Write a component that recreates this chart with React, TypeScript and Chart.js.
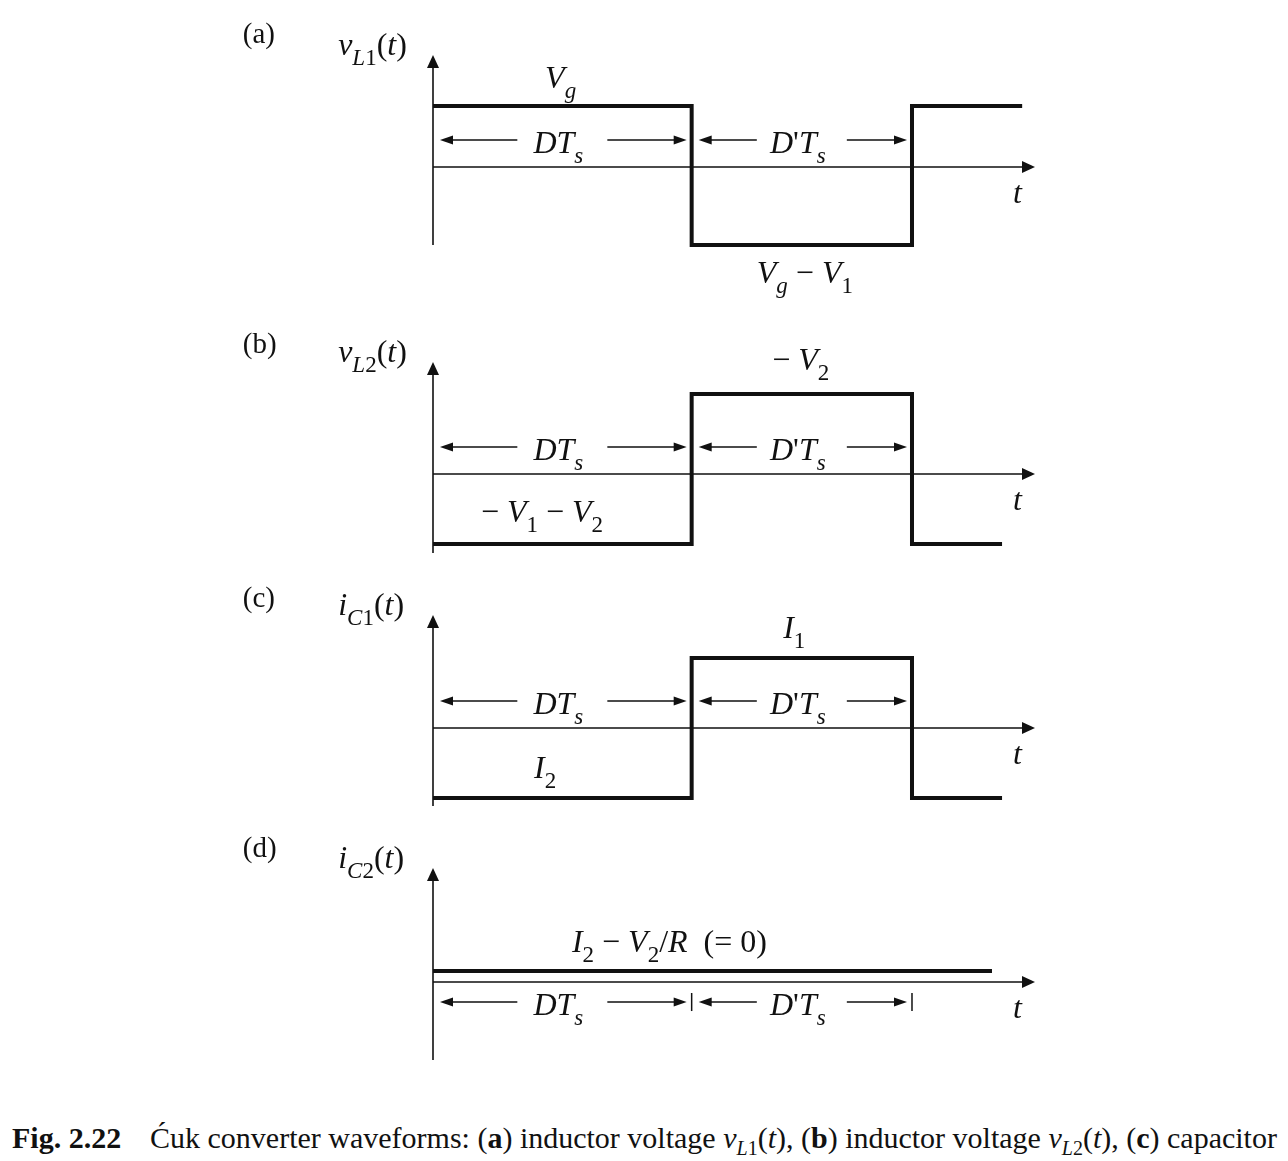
import React, { useEffect, useRef } from 'react';
import { Chart, registerables } from 'chart.js';
Chart.register(...registerables);

// ---- data ----
const D = 0.54; // duty cycle (switching period Ts = 1)
const X_MAX = 1.2568;
const timesA = [0, D, D, 1, 1, 1.23];
const vL1 = [1, 1, -1.28, -1.28, 1, 1]; // Vg, Vg - V1
const timesB = [0, D, D, 1, 1, 1.188];
const vL2 = [-0.875, -0.875, 1, 1, -0.875, -0.875]; // -V1-V2, -V2
const timesC = [0, D, D, 1, 1, 1.188];
const iC1 = [-1, -1, 1, 1, -1, -1]; // I2, I1
const timesD = [0, 1.167];
const iC2 = [0.1, 0.1]; // I2 - V2/R (= 0)

const SERIF = '"Liberation Serif", "Times New Roman", Times, serif';
const INK = '#111';

type Seg = { t: string; it?: boolean; sub?: boolean };
type Label = { x: number; y: number; segs: Seg[]; align?: 'left' | 'center'; size?: number };
type Dim = { from: number; to: number; y: number; textY: number; segs: Seg[]; ticks?: boolean };

const DTs: Seg[] = [{ t: 'DT', it: true }, { t: 's', it: true, sub: true }];
const DpTs: Seg[] = [{ t: 'D', it: true }, { t: "'" }, { t: 'T', it: true }, { t: 's', it: true, sub: true }];
const tLab: Seg[] = [{ t: 't', it: true }];
const fn = (v: string, a: string, b: string): Seg[] => [
  { t: v, it: true }, { t: a, it: true, sub: true }, { t: b, sub: true }, { t: '(' }, { t: 't', it: true }, { t: ')' },
];

const dimsStd = (y: number, textY: number): Dim[] => [
  { from: 0, to: D, y, textY, segs: DTs },
  { from: D, to: 1, y, textY, segs: DpTs },
];

const panels = [
  {
    top: 0, height: 300, pad: { left: 433, right: 253, top: 55, bottom: 55 },
    yMin: -1.28, yMax: 1.836, times: timesA, values: vL1,
    labels: [
      { x: -0.397, y: 2.033, segs: [{ t: '(a)' }], size: 29 },
      { x: -0.198, y: 1.836, segs: fn('v', 'L', '1') },
      { x: 0.234, y: 1.295, segs: [{ t: 'V', it: true }, { t: 'g', it: true, sub: true }] },
      { x: 1.211, y: -0.59, segs: tLab },
      { x: 0.676, y: -1.9, segs: [{ t: 'V', it: true }, { t: 'g', it: true, sub: true }, { t: ' − ' }, { t: 'V', it: true }, { t: '1', sub: true }] },
    ] as Label[],
    dims: dimsStd(0.443, 0.23),
  },
  {
    top: 300, height: 270, pad: { left: 433, right: 253, top: 62, bottom: 17 },
    yMin: -0.9875, yMax: 1.4, times: timesB, values: vL2,
    labels: [
      { x: -0.397, y: 1.5125, segs: [{ t: '(b)' }], size: 29 },
      { x: -0.198, y: 1.4, segs: fn('v', 'L', '2') },
      { x: 0.708, y: 1.3, segs: [{ t: '− ' }, { t: 'V', it: true }, { t: '2', sub: true }] },
      { x: 0.1, y: -0.6, segs: [{ t: '− ' }, { t: 'V', it: true }, { t: '1', sub: true }, { t: ' − ' }, { t: 'V', it: true }, { t: '2', sub: true }] },
      { x: 1.211, y: -0.45, segs: tLab },
    ] as Label[],
    dims: dimsStd(0.3375, 0.175),
  },
  {
    top: 570, height: 260, pad: { left: 433, right: 253, top: 45, bottom: 24 },
    yMin: -1.114, yMax: 1.614, times: timesC, values: iC1,
    labels: [
      { x: -0.397, y: 1.729, segs: [{ t: '(c)' }], size: 29 },
      { x: -0.198, y: 1.614, segs: fn('i', 'C', '1') },
      { x: 0.731, y: 1.286, segs: [{ t: 'I', it: true }, { t: '1', sub: true }] },
      { x: 0.211, y: -0.714, segs: [{ t: 'I', it: true }, { t: '2', sub: true }] },
      { x: 1.211, y: -0.514, segs: tLab },
    ] as Label[],
    dims: dimsStd(0.386, 0.2),
  },
  {
    top: 830, height: 260, pad: { left: 433, right: 253, top: 38, bottom: 30 },
    yMin: -0.709, yMax: 1.036, times: timesD, values: iC2,
    labels: [
      { x: -0.397, y: 1.136, segs: [{ t: '(d)' }], size: 29 },
      { x: -0.198, y: 1.036, segs: fn('i', 'C', '2') },
      {
        x: 0.29, y: 0.273, segs: [
          { t: 'I', it: true }, { t: '2', sub: true }, { t: ' − ' }, { t: 'V', it: true }, { t: '2', sub: true },
          { t: '/' }, { t: 'R', it: true }, { t: '  (= 0)' },
        ],
      },
      { x: 1.211, y: -0.327, segs: tLab },
    ] as Label[],
    dims: dimsStd(-0.182, -0.3).map((d) => ({ ...d, ticks: true })),
  },
];

const SIZE = 32;
function fontFor(s: Seg, size: number) {
  const sub = Math.round(size * 0.72);
  return `${s.it ? 'italic ' : ''}${s.sub ? sub : size}px ${SERIF}`;
}
function richWidth(ctx: CanvasRenderingContext2D, segs: Seg[], size: number) {
  let w = 0;
  for (const s of segs) { ctx.font = fontFor(s, size); w += ctx.measureText(s.t).width; }
  return w;
}
function drawRich(ctx: CanvasRenderingContext2D, x: number, y: number, segs: Seg[], align: 'left' | 'center', size: number) {
  const w = richWidth(ctx, segs, size);
  let cx = align === 'center' ? x - w / 2 : x;
  ctx.textAlign = 'left';
  ctx.textBaseline = 'alphabetic';
  ctx.fillStyle = INK;
  for (const s of segs) {
    ctx.font = fontFor(s, size);
    ctx.fillText(s.t, cx, s.sub ? y + 10 : y);
    cx += ctx.measureText(s.t).width;
  }
}
function arrowHead(ctx: CanvasRenderingContext2D, x: number, y: number, dir: 'l' | 'r' | 'u', len: number, hw: number) {
  ctx.beginPath();
  if (dir === 'r') { ctx.moveTo(x, y); ctx.lineTo(x - len, y - hw); ctx.lineTo(x - len, y + hw); }
  else if (dir === 'l') { ctx.moveTo(x, y); ctx.lineTo(x + len, y - hw); ctx.lineTo(x + len, y + hw); }
  else { ctx.moveTo(x, y); ctx.lineTo(x - hw, y + len); ctx.lineTo(x + hw, y + len); }
  ctx.closePath();
  ctx.fill();
}

const figurePlugin = {
  id: 'figurePlugin',
  beforeDatasetsDraw(chart: any) {
    const { ctx, chartArea, scales } = chart;
    const x0 = scales.x.getPixelForValue(0);
    const y0 = scales.y.getPixelForValue(0);
    ctx.save();
    ctx.strokeStyle = INK;
    ctx.fillStyle = INK;
    ctx.lineWidth = 1.6;
    ctx.beginPath();
    ctx.moveTo(x0, chartArea.bottom);
    ctx.lineTo(x0, chartArea.top + 10);
    ctx.moveTo(x0, y0);
    ctx.lineTo(chartArea.right - 10, y0);
    ctx.stroke();
    arrowHead(ctx, x0, chartArea.top, 'u', 13, 6);
    arrowHead(ctx, chartArea.right, y0, 'r', 13, 6);
    ctx.restore();
  },
  afterDatasetsDraw(chart: any) {
    const { ctx, scales } = chart;
    const p = chart.options.plugins.figurePlugin;
    const X = (v: number) => scales.x.getPixelForValue(v);
    const Y = (v: number) => scales.y.getPixelForValue(v);
    ctx.save();
    for (const l of p.labels as Label[]) drawRich(ctx, X(l.x), Y(l.y), l.segs, l.align || 'left', l.size || SIZE);
    ctx.strokeStyle = INK;
    ctx.fillStyle = INK;
    for (const d of p.dims as Dim[]) {
      const a = X(d.from) + 7;
      const b = X(d.to) - 5;
      const mid = (X(d.from) + X(d.to)) / 2;
      const y = Y(d.y);
      const gap = 45;
      ctx.lineWidth = 1.6;
      ctx.beginPath();
      ctx.moveTo(a + 10, y); ctx.lineTo(mid - gap, y);
      ctx.moveTo(mid + gap, y); ctx.lineTo(b - 10, y);
      ctx.stroke();
      arrowHead(ctx, a, y, 'l', 13, 4.5);
      arrowHead(ctx, b, y, 'r', 13, 4.5);
      drawRich(ctx, mid - 4, Y(d.textY), d.segs, 'center', SIZE);
      if (d.ticks) {
        ctx.lineWidth = 1.5;
        ctx.beginPath();
        ctx.moveTo(X(d.to), Y(-0.1));
        ctx.lineTo(X(d.to), Y(-0.264));
        ctx.stroke();
      }
    }
    ctx.restore();
  },
};

function Panel({ cfg }: { cfg: (typeof panels)[number] }) {
  const ref = useRef<HTMLCanvasElement | null>(null);
  useEffect(() => {
    if (!ref.current) return;
    const chart = new Chart(ref.current, {
      type: 'line',
      data: {
        datasets: [
          {
            data: cfg.times.map((t, i) => ({ x: t, y: cfg.values[i] })),
            borderColor: INK,
            borderWidth: 4,
            pointRadius: 0,
            fill: false,
            tension: 0,
            borderJoinStyle: 'miter',
            borderCapStyle: 'butt',
            clip: false as any,
          },
        ],
      },
      options: {
        animation: false,
        responsive: false,
        devicePixelRatio: 1,
        layout: { padding: cfg.pad },
        scales: {
          x: { type: 'linear', min: 0, max: X_MAX, display: false },
          y: { type: 'linear', min: cfg.yMin, max: cfg.yMax, display: false },
        },
        plugins: {
          legend: { display: false },
          tooltip: { enabled: false },
          figurePlugin: { labels: cfg.labels, dims: cfg.dims },
        } as any,
      },
      plugins: [figurePlugin as any],
    });
    return () => chart.destroy();
  }, [cfg]);
  return (
    <canvas
      ref={ref}
      width={1288}
      height={cfg.height}
      style={{ position: 'absolute', left: 0, top: cfg.top, width: 1288, height: cfg.height }}
    />
  );
}

export default function App() {
  return (
    <div style={{ position: 'absolute', left: 0, top: 0, width: 1288, height: 1161, background: '#fff', overflow: 'hidden' }}>
      {panels.map((p, i) => (
        <Panel key={i} cfg={p} />
      ))}
      <div
        style={{
          position: 'absolute', left: 12, top: 1120, whiteSpace: 'nowrap', fontFamily: SERIF,
          fontSize: 30, lineHeight: '36px', color: INK,
        }}
      >
        <b>Fig. 2.22</b>
        <span style={{ position: 'absolute', left: 138, top: 0 }}>
          Ćuk converter waveforms: (<b>a</b>) inductor voltage <i>v</i>
          <sub style={{ fontSize: 20 }}><i>L</i>1</sub>(<i>t</i>), (<b>b</b>) inductor voltage <i>v</i>
          <sub style={{ fontSize: 20 }}><i>L</i>2</sub>(<i>t</i>), (<b>c</b>) capacitor
        </span>
      </div>
    </div>
  );
}
